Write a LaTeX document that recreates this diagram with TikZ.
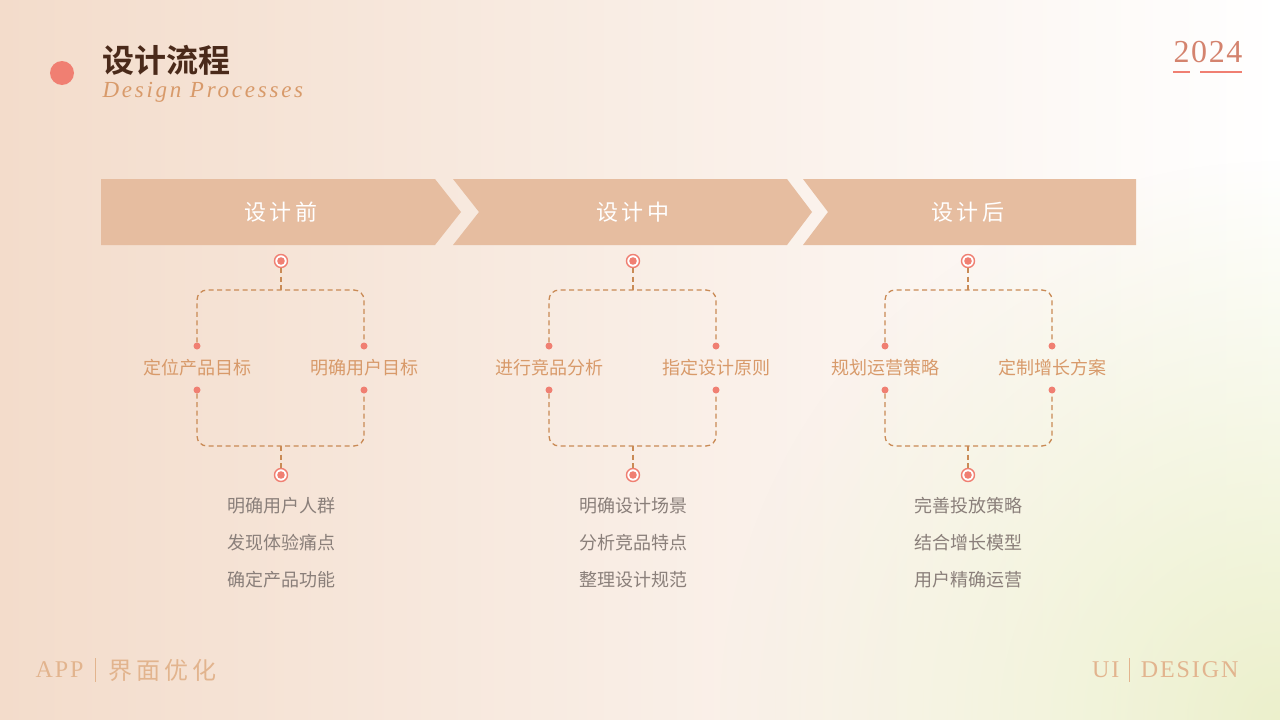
\documentclass[tikz,border=0pt]{standalone}
\usepackage{fontspec}
\setmainfont{Liberation Serif}
\newfontfamily\cjk{Noto Sans CJK SC}
\newfontfamily\cjkb{Noto Sans CJK SC Bold}
\usetikzlibrary{calc,fadings}
\tikzfading[name=radfade, inner color=transparent!0, outer color=transparent!100]
\definecolor{band}{HTML}{E6BDA0}
\definecolor{lab}{HTML}{D89A6A}
\definecolor{dash}{HTML}{C98A55}
\definecolor{dotc}{HTML}{F07F72}
\definecolor{gray}{HTML}{8A7F7A}
\definecolor{ttl}{HTML}{4A2A1A}
\definecolor{foot}{HTML}{E2B48E}
\definecolor{peach}{HTML}{F3DCCB}
\definecolor{greenc}{HTML}{ECF0CC}
\definecolor{yr}{HTML}{D4836E}
\tikzset{
 conn/.style={draw=dash,dashed,dash pattern=on 5pt off 3.5pt,line width=1.3pt,rounded corners=10pt},
 ring/.style={circle,draw=dotc,fill=white,line width=1.4pt,minimum size=13pt,inner sep=0pt,
   path picture={\fill[dotc] (path picture bounding box.center) circle (3.8pt);}},
 sdot/.style={circle,fill=dotc,minimum size=7pt,inner sep=0pt},
 labl/.style={font=\cjk\fontsize{18}{20}\selectfont,text=lab},
 item/.style={font=\cjk\fontsize{18}{20}\selectfont,text=gray},
 bandtxt/.style={font=\cjk\fontsize{22}{24}\selectfont,text=white}
}
\begin{document}
\begin{tikzpicture}[x=1pt,y=-1pt]
\useasboundingbox (0,0) rectangle (1280,720);
\shade[shading angle=120,left color=peach,right color=white] (0,0) rectangle (1280,720);
\begin{scope}
\clip (0,0) rectangle (1280,720);
\fill[greenc,path fading=radfade] (1280,720) circle (560);
\end{scope}
% header
\node[circle,fill=dotc,minimum size=24pt,inner sep=0pt] (hd) at (62,73) {};
\node[anchor=west,font=\cjkb\fontsize{32}{34}\selectfont,text=ttl] (ti) at (99,60) {设计流程};
\node[anchor=west,font=\itshape\fontsize{23}{25}\selectfont,text=lab] (st) at (99,92) {\addfontfeature{LetterSpace=12}Design Processes};
\node[anchor=east,font=\fontsize{32}{34}\selectfont,text=yr] (yr) at (1246,52) {\addfontfeature{LetterSpace=5}2024};
\draw[dotc,line width=2pt] (1173,72) -- (1190,72) (1200,72) -- (1242,72);
% footer
\node[anchor=west,font=\fontsize{24}{26}\selectfont,text=foot] (f1) at (32,670) {\addfontfeature{LetterSpace=8}APP};
\draw[foot,line width=1pt] (95,658) -- (95,682);
\node[anchor=west,font=\cjk\fontsize{24}{26}\selectfont,text=foot] (f2) at (105,670) {界\,面\,优\,化};
\node[anchor=east,font=\fontsize{24}{26}\selectfont,text=foot] (f3) at (1123,670) {\addfontfeature{LetterSpace=8}UI};
\draw[foot,line width=1pt] (1129,658) -- (1129,682);
\node[anchor=east,font=\fontsize{24}{26}\selectfont,text=foot] (f4) at (1242,670) {\addfontfeature{LetterSpace=8}DESIGN};
% bands
\fill[band] (101,179) -- (435,179) -- (461,212) -- (435,245) -- (101,245) -- cycle;
\fill[band] (453,179) -- (787,179) -- (812,212) -- (787,245) -- (453,245) -- (479,212) -- cycle;
\fill[band] (803,179) -- (1136,179) -- (1136,245) -- (803,245) -- (828,212) -- cycle;
\node[bandtxt] (b1) at (281,212) {设\,计\,前};
\node[bandtxt] (b2) at (633,212) {设\,计\,中};
\node[bandtxt] (b3) at (968,212) {设\,计\,后};
% groups
\foreach \n/\c/\l/\r/\la/\lb/\ia/\ib/\ic in {
 g1/281/197/364/定位产品目标/明确用户目标/明确用户人群/发现体验痛点/确定产品功能,
 g2/633/549/716/进行竞品分析/指定设计原则/明确设计场景/分析竞品特点/整理设计规范,
 g3/968/885/1052/规划运营策略/定制增长方案/完善投放策略/结合增长模型/用户精确运营}{
 \node[ring] (\n t) at (\c,261) {};
 \node[ring] (\n b) at (\c,475) {};
 \coordinate (\n tj) at (\c,290);
 \coordinate (\n bj) at (\c,446);
 \node[sdot] (\n lu) at (\l,346) {};
 \node[sdot] (\n ru) at (\r,346) {};
 \node[sdot] (\n ld) at (\l,390) {};
 \node[sdot] (\n rd) at (\r,390) {};
 \node[labl] (\n la) at (\l,368) {\la};
 \node[labl] (\n lb) at (\r,368) {\lb};
 \draw[conn] (\n lu) |- (\n tj) -| (\n ru);
 \draw[conn] (\n ld) |- (\n bj) -| (\n rd);
 \draw[conn] (\n t) -- (\n tj);
 \draw[conn] (\n bj) -- (\n b);
 \node[item] (\n i1) at (\c,506) {\ia};
 \node[item] (\n i2) at (\c,543) {\ib};
 \node[item] (\n i3) at (\c,580) {\ic};
}
\end{tikzpicture}
\end{document}
